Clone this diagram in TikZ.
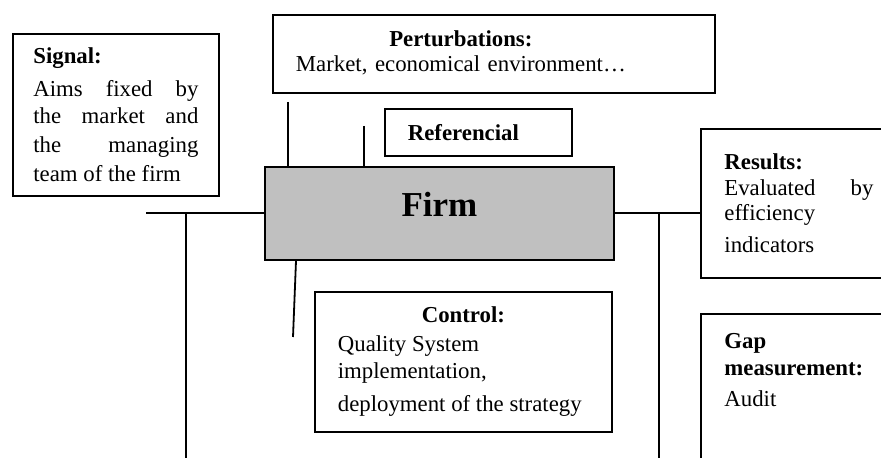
\documentclass[tikz,border=0pt]{standalone}
\usepackage{fontspec}
\setmainfont{Liberation Serif}
\usetikzlibrary{calc}
\usetikzlibrary{positioning}
\definecolor{firmgray}{HTML}{C0C0C0}
\tikzstyle{boxnode} = [draw, line width=0.9pt, anchor=north west, inner xsep=0pt, align=justify, font=\fontsize{11.4}{13.5}\selectfont]
\tikzstyle{firmnode} = [boxnode, fill=firmgray, align=center, font=\fontsize{17.5}{20}\selectfont\bfseries]
\tikzstyle{link} = [line width=0.9pt]

\begin{document}
\begin{tikzpicture}[x=0.5pt, y=-0.5pt]
    \useasboundingbox (0,0) rectangle (881,458);
    \clip (0,0) rectangle (881,458);

    \node[firmnode, minimum width=174.5pt, minimum height=46.5pt, text depth=9pt] (firm) at (264,166) {Firm};

    \node[boxnode, minimum width=103pt, minimum height=81pt, text width=82.5pt] (signal) at (12,33)
        {\textbf{Signal:}\\[3pt]
         Aims\hfill fixed\hfill by\\
         the\hfill market\hfill and\\[1pt]
         the\hfill managing\\[1pt]
         team of the firm};
    \node[boxnode, align=left, minimum width=221pt, minimum height=39pt, text width=198pt] (perturb) at (272,14)
        {\begin{tabular}{@{}c@{}}\textbf{Perturbations:}\\[-1pt]Market, economical environment…\end{tabular}};
    \node[boxnode, align=left, minimum width=93.5pt, minimum height=23.5pt, text width=70.5pt] (refer) at (384,108)
        {\textbf{Referencial}};
    \node[boxnode, minimum width=148.5pt, minimum height=70pt, text width=125.5pt] (control) at (314,291)
        {\hspace*{\fill}\textbf{Control:}\hspace*{\fill}\\[1pt]
         Quality System\\
         implementation,\\[3pt]
         deployment of the strategy};
    \node[boxnode, minimum width=98pt, minimum height=74.5pt, text width=74.5pt, font=\fontsize{11.4}{12.8}\selectfont] (results) at (700,128)
        {\textbf{Results:}\\
         Evaluated\hfill by\\
         efficiency\\[3pt]
         indicators};
    \node[boxnode, minimum width=98pt, inner ysep=9.5pt, text width=74.5pt, text height=8pt, text depth=90pt] (gap) at (700,313)
        {\textbf{Gap}\\
         \textbf{measurement:}\\[2pt]
         Audit};

    \coordinate (lend) at (146,212);
    \coordinate (ldown) at (186,470);
    \coordinate (rdown) at (659,470);
    \coordinate (ptop) at (288,102);
    \coordinate (rtop) at (364,126);
    \coordinate (cbot) at (293,337);

    \draw[link] (firm.west) -- (firm.west -| lend);
    \draw[link] (firm.west -| ldown) -- (ldown);
    \draw[link] (firm.east) -- (firm.east -| results.west);
    \draw[link] (firm.east -| rdown) -- (rdown);
    \draw[link] (ptop) -- (ptop |- firm.north);
    \draw[link] (rtop) -- (rtop |- firm.north);
    \draw[link] ([xshift=16pt]firm.south west) -- (cbot);
\end{tikzpicture}
\end{document}
